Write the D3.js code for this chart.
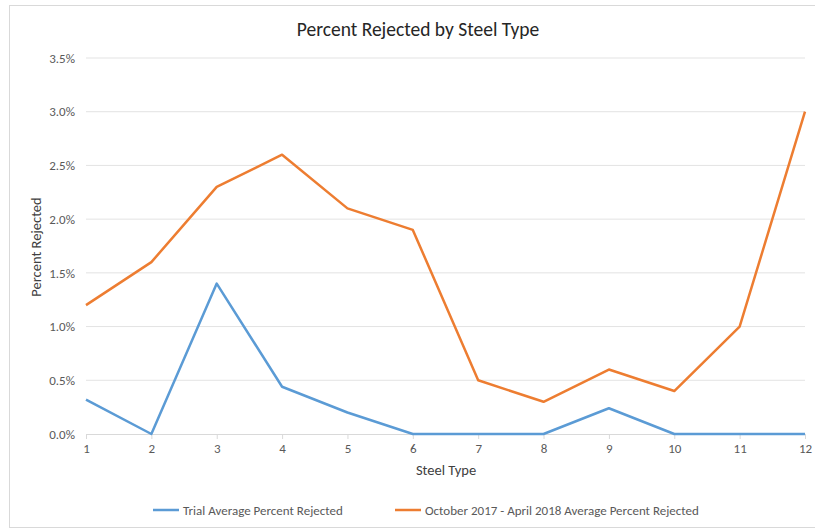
<!DOCTYPE html>
<html lang="en">
<head>
  <meta charset="UTF-8">
  <title>Percent Rejected by Steel Type</title>
  <script src="https://d3js.org/d3.v7.min.js"></script>
  <style>
    body { margin: 0; background: #fff; }
    svg text { font-family: Carlito, "Open Sans", sans-serif; }
  </style>
</head>
<body>
  <svg id="chart" width="815" height="529"></svg>
  <script>
    const steelTypes = [1, 2, 3, 4, 5, 6, 7, 8, 9, 10, 11, 12];
    const trialValues = [0.0032, 0, 0.014, 0.0044, 0.002, 0, 0, 0, 0.0024, 0, 0, 0];
    const periodValues = [0.012, 0.016, 0.023, 0.026, 0.021, 0.019, 0.005, 0.003, 0.006, 0.004, 0.010, 0.030];
    const yTicks = [0, 0.005, 0.01, 0.015, 0.02, 0.025, 0.03, 0.035];
    const seriesNames = ['Trial Average Percent Rejected', 'October 2017 - April 2018 Average Percent Rejected'];
    const seriesColors = ['#5b9bd5', '#ed7d31'];

    const svg = d3.select('#chart');

    // outer frame
    svg.append('rect')
      .attr('x', 9.5).attr('y', 5.5)
      .attr('width', 820).attr('height', 522)
      .attr('fill', '#fff')
      .attr('stroke', '#d9d9d9');

    const x = d3.scaleLinear().domain([1, 12]).range([86, 805]);
    const y = d3.scaleLinear().domain([0, 0.035]).range([434, 58]);

    // gridlines
    svg.append('g')
      .selectAll('line')
      .data(yTicks.slice(1))
      .join('line')
      .attr('x1', 86).attr('x2', 805)
      .attr('y1', d => y(d)).attr('y2', d => y(d))
      .attr('stroke', '#e3e3e3');

    // y axis labels
    const yAxis = d3.axisLeft(y).tickValues(yTicks).tickFormat(d3.format('.1%')).tickSize(0).tickPadding(11);
    svg.append('g')
      .attr('transform', 'translate(86,0)')
      .call(yAxis)
      .call(g => g.select('.domain').remove())
      .call(g => g.selectAll('text').attr('fill', '#595959').style('font-size', '13px'));

    // x axis
    const xAxis = d3.axisBottom(x).tickValues(steelTypes).tickSize(5).tickPadding(5);
    svg.append('g')
      .attr('transform', 'translate(0,434)')
      .call(xAxis)
      .call(g => g.select('.domain').attr('stroke', '#d9d9d9'))
      .call(g => g.selectAll('.tick line').attr('stroke', '#d9d9d9'))
      .call(g => g.selectAll('text').attr('fill', '#595959').style('font-size', '13px'));

    const line = d3.line().x((d, i) => x(steelTypes[i])).y(d => y(d));

    [trialValues, periodValues].forEach((vals, k) => {
      svg.append('path')
        .datum(vals)
        .attr('d', line)
        .attr('fill', 'none')
        .attr('stroke', seriesColors[k])
        .attr('stroke-width', 2.5)
        .attr('stroke-linejoin', 'round');
    });

    // title
    svg.append('text')
      .attr('x', 418).attr('y', 36)
      .attr('text-anchor', 'middle')
      .attr('fill', '#262626')
      .style('font-size', '19.5px')
      .text('Percent Rejected by Steel Type');

    // axis titles
    svg.append('text')
      .attr('x', 446).attr('y', 475)
      .attr('text-anchor', 'middle')
      .attr('fill', '#404040')
      .style('font-size', '14.5px')
      .text('Steel Type');

    svg.append('text')
      .attr('transform', 'translate(41,247) rotate(-90)')
      .attr('text-anchor', 'middle')
      .attr('fill', '#404040')
      .style('font-size', '14.5px')
      .text('Percent Rejected');

    // legend
    const legendX = [153, 395];
    const legend = svg.append('g');
    seriesNames.forEach((name, k) => {
      legend.append('line')
        .attr('x1', legendX[k]).attr('x2', legendX[k] + 26)
        .attr('y1', 510).attr('y2', 510)
        .attr('stroke', seriesColors[k])
        .attr('stroke-width', 2.5);
      legend.append('text')
        .attr('x', legendX[k] + 30).attr('y', 514.5)
        .attr('fill', '#595959')
        .style('font-size', '13px')
        .text(name);
    });
  </script>
</body>
</html>
